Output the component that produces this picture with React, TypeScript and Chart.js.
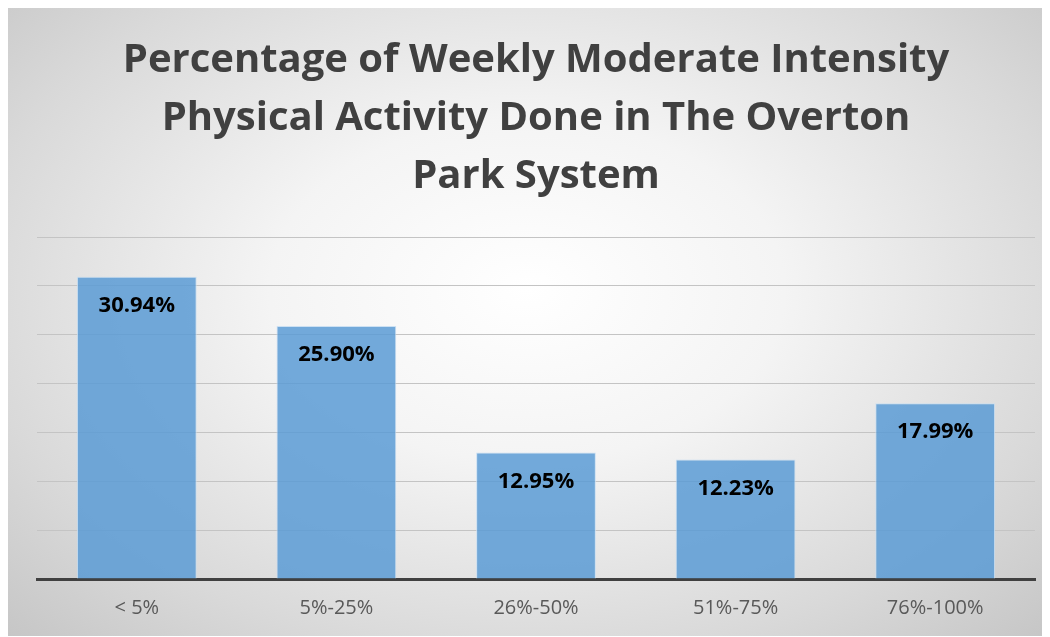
import React, { useEffect, useRef } from "react";
import { Chart, registerables } from "chart.js";

Chart.register(...registerables);

const categories = ["< 5%", "5%-25%", "26%-50%", "51%-75%", "76%-100%"];
const percentages = [30.94, 25.9, 12.95, 12.23, 17.99];
const valueLabels = ["30.94%", "25.90%", "12.95%", "12.23%", "17.99%"];
const titleLines = [
  "Percentage of Weekly Moderate Intensity",
  "Physical Activity Done in The Overton",
  "Park System",
];

const FONT = "'Open Sans', 'Noto Sans', sans-serif";

const labelPlugin = {
  id: "valueLabels",
  afterDatasetsDraw(chart: any) {
    const ctx = chart.ctx;
    const meta = chart.getDatasetMeta(0);
    ctx.save();
    ctx.font = `bold 22px ${FONT}`;
    ctx.fillStyle = "#000000";
    ctx.textAlign = "center";
    ctx.textBaseline = "middle";
    meta.data.forEach((bar: any, i: number) => {
      ctx.fillText(valueLabels[i], bar.x, bar.y + 29);
    });
    ctx.restore();
  },
};

export default function App() {
  const ref = useRef<HTMLCanvasElement>(null);
  useEffect(() => {
    if (!ref.current) return;
    const chart = new Chart(ref.current, {
      type: "bar",
      data: {
        labels: categories,
        datasets: [
          {
            data: percentages,
            backgroundColor: "rgba(91,155,213,0.85)",
            borderColor: "rgba(200,222,242,0.9)",
            borderWidth: 1,
            barPercentage: 0.6,
            categoryPercentage: 1,
          },
        ],
      },
      options: {
        animation: false,
        responsive: false,
        layout: { padding: { left: 30, right: 12, top: 0, bottom: 0 } },
        plugins: {
          legend: { display: false },
          tooltip: { enabled: false },
          title: {
            display: true,
            text: titleLines,
            color: "#404040",
            font: { family: FONT, size: 40, weight: "bold", lineHeight: 58 / 40 },
            padding: { top: 25, bottom: 31 },
          },
        },
        scales: {
          x: {
            grid: { display: false, drawTicks: false },
            border: { display: true, color: "#404040", width: 3 },
            ticks: {
              color: "#595959",
              font: { family: FONT, size: 20 },
              padding: 17,
            },
            afterFit(scale: any) {
              scale.height = 57;
            },
          },
          y: {
            min: 0,
            max: 35,
            ticks: { display: false, stepSize: 5 },
            grid: { color: "#c4c4c4", lineWidth: 1, drawTicks: false },
            border: { display: false },
          },
        },
      },
      plugins: [labelPlugin],
    });
    return () => chart.destroy();
  }, []);
  return (
    <div
      style={{
        width: 1040,
        height: 630,
        marginTop: -2,
        marginLeft: -1,
        boxSizing: "border-box",
        borderTop: "1px solid #cfcfcf",
        background:
          "radial-gradient(ellipse at 50% 45%, #ffffff 0%, #f4f4f4 35%, #d9d9d9 75%, #c6c6c6 100%)",
      }}
    >
      <canvas ref={ref} width={1040} height={629} style={{ display: "block" }} />
    </div>
  );
}
